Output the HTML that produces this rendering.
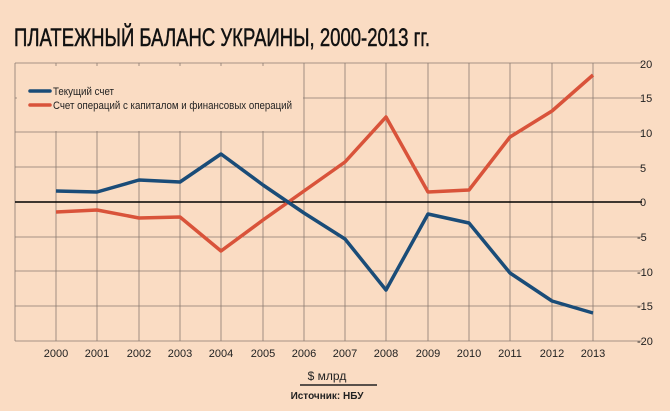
<!DOCTYPE html><html><head><meta charset="utf-8"><style>body{margin:0;background:#fadcc3;}svg{display:block}</style></head><body>
<svg width="670" height="411" xmlns="http://www.w3.org/2000/svg" font-family="'Liberation Sans Narrow','Liberation Sans',sans-serif">
<rect width="670" height="411" fill="#fadcc3"/>
<text x="14" y="46" font-size="25" fill="#111" stroke="#111" stroke-width="0.5" textLength="416" lengthAdjust="spacingAndGlyphs">ПЛАТЕЖНЫЙ БАЛАНС УКРАИНЫ, 2000-2013 гг.</text>
<g stroke="#8a7a70" stroke-width="0.8">
<line x1="15" y1="63" x2="15" y2="341"/>
<line x1="15" y1="341" x2="642" y2="341"/>
<line x1="15" y1="63" x2="642" y2="63"/>
<line x1="15" y1="98" x2="642" y2="98"/>
<line x1="15" y1="132" x2="642" y2="132"/>
<line x1="15" y1="167" x2="642" y2="167"/>
<line x1="15" y1="237" x2="642" y2="237"/>
<line x1="15" y1="271" x2="642" y2="271"/>
<line x1="15" y1="306" x2="642" y2="306"/>
<line x1="56" y1="63" x2="56" y2="341"/><line x1="97" y1="63" x2="97" y2="341"/><line x1="139" y1="63" x2="139" y2="341"/><line x1="180" y1="63" x2="180" y2="341"/><line x1="221" y1="63" x2="221" y2="341"/><line x1="263" y1="63" x2="263" y2="341"/><line x1="304" y1="63" x2="304" y2="341"/><line x1="345" y1="63" x2="345" y2="341"/><line x1="386" y1="63" x2="386" y2="341"/><line x1="428" y1="63" x2="428" y2="341"/><line x1="469" y1="63" x2="469" y2="341"/><line x1="510" y1="63" x2="510" y2="341"/><line x1="552" y1="63" x2="552" y2="341"/><line x1="593" y1="63" x2="593" y2="341"/>
</g>
<rect x="17" y="66" width="286" height="65" fill="#fadcc3"/>
<line x1="15" y1="202" x2="642" y2="202" stroke="#000" stroke-width="1.5"/>
<g font-size="11" fill="#222">
<text x="640" y="68">20</text><text x="640" y="102">15</text><text x="640" y="137">10</text><text x="640" y="172">5</text><text x="640" y="206">0</text><text x="637" y="241">-5</text><text x="637" y="276">-10</text><text x="637" y="310">-15</text><text x="637" y="345">-20</text>
</g>
<g font-size="11" fill="#222" text-anchor="middle">
<text x="56" y="357">2000</text><text x="97" y="357">2001</text><text x="139" y="357">2002</text><text x="180" y="357">2003</text><text x="221" y="357">2004</text><text x="263" y="357">2005</text><text x="304" y="357">2006</text><text x="345" y="357">2007</text><text x="386" y="357">2008</text><text x="428" y="357">2009</text><text x="469" y="357">2010</text><text x="510" y="357">2011</text><text x="552" y="357">2012</text><text x="593" y="357">2013</text>
<text x="327" y="380" font-size="12">$ млрд</text>
<line x1="300" y1="385" x2="377" y2="385" stroke="#222" stroke-width="1.5"/>
<text x="327" y="399" font-size="10" font-weight="bold">Источник: НБУ</text>
</g>
<polyline fill="none" stroke="#d9533a" stroke-width="3.5" stroke-linejoin="round" points="56,212 97,210 139,218 180,217 221,251 263,220 304,191 345,162 386,117 428,192 469,190 510,137 552,111 593,75"/>
<polyline fill="none" stroke="#1a4c78" stroke-width="3.5" stroke-linejoin="round" points="56,191 97,192 139,180 180,182 221,154 263,185 304,213 345,239 386,290 428,214 469,223 510,273 552,301 593,313"/>
<line x1="30" y1="91" x2="50" y2="91" stroke="#1a4c78" stroke-width="3.5" stroke-linecap="round"/>
<line x1="30" y1="105" x2="50" y2="105" stroke="#d9533a" stroke-width="3.5" stroke-linecap="round"/>
<g font-size="11" fill="#222"><text x="53" y="95" textLength="61" lengthAdjust="spacingAndGlyphs">Текущий счет</text><text x="53" y="109" textLength="239" lengthAdjust="spacingAndGlyphs">Счет операций с капиталом и финансовых операций</text></g>
</svg></body></html>
